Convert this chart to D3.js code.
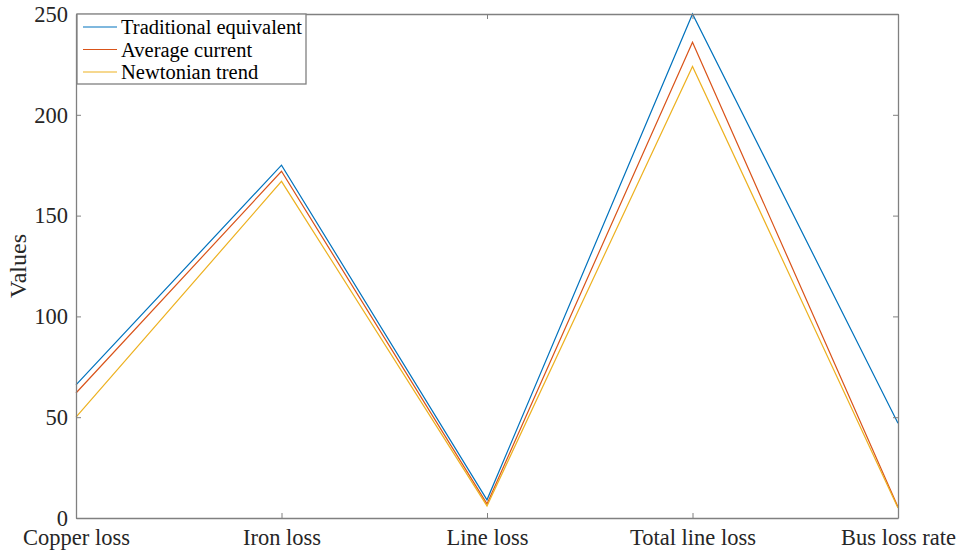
<!DOCTYPE html>
<html>
<head>
<meta charset="utf-8">
<script src="https://cdn.jsdelivr.net/npm/d3@7"></script>
<style>
  body { margin: 0; background: #fff; }
  svg { display: block; font-family: "Liberation Serif", "Times New Roman", serif; }
</style>
</head>
<body>
<div id="chart"></div>
<script>
const categories = ["Copper loss", "Iron loss", "Line loss", "Total line loss", "Bus loss rate"];
const seriesNames = ["Traditional equivalent", "Average current", "Newtonian trend"];
const traditional = [66, 175, 9, 250, 47];
const average = [62, 172, 7, 236, 5.5];
const newtonian = [50, 167, 6, 224, 5];
const yTicks = [0, 50, 100, 150, 200, 250];
const colors = ["#0072BD", "#D95319", "#EDB120"];

const width = 963, height = 553;
const margin = {top: 14, right: 65, bottom: 35, left: 76};

const svg = d3.select("#chart").append("svg")
  .attr("width", width)
  .attr("height", height);

const x = d3.scalePoint()
  .domain(categories)
  .range([margin.left, width - margin.right]);

const y = d3.scaleLinear()
  .domain([0, 250])
  .range([height - margin.bottom, margin.top]);

const axisColor = "#808080";

// lignes
const series = [traditional, average, newtonian];
const line = d3.line()
  .x((d, i) => x(categories[i]))
  .y(d => y(d));

svg.append("g")
  .selectAll("path")
  .data(series)
  .join("path")
    .attr("fill", "none")
    .attr("stroke", (d, i) => colors[i])
    .attr("stroke-width", 1.2)
    .attr("d", line);

// axes
const axBottom = svg.append("g")
  .attr("transform", `translate(0,${y(0)})`)
  .call(d3.axisBottom(x).tickSizeInner(-5).tickSizeOuter(0).tickPadding(10));
const axTop = svg.append("g")
  .attr("transform", `translate(0,${y(250)})`)
  .call(d3.axisTop(x).tickSizeInner(-5).tickSizeOuter(0).tickFormat(""));
const axLeft = svg.append("g")
  .attr("transform", `translate(${margin.left},0)`)
  .call(d3.axisLeft(y).tickValues(yTicks).tickSizeInner(-5).tickSizeOuter(0).tickPadding(8));
const axRight = svg.append("g")
  .attr("transform", `translate(${width - margin.right},0)`)
  .call(d3.axisRight(y).tickValues(yTicks).tickSizeInner(-5).tickSizeOuter(0).tickFormat(""));

[axBottom, axTop, axLeft, axRight].forEach(g => {
  g.select(".domain").attr("stroke", axisColor).attr("stroke-width", 1.3);
  g.selectAll(".tick line").attr("stroke", axisColor);
  g.selectAll(".tick text")
    .attr("fill", "#262626")
    .attr("font-family", "Liberation Serif, Times New Roman, serif")
    .attr("font-size", 22.5);
});
axBottom.selectAll(".tick text").attr("dy", "0.71em").attr("y", 11);

// titre axe y
svg.append("text")
  .attr("transform", `translate(26,${(y(0) + y(250)) / 2}) rotate(-90)`)
  .attr("text-anchor", "middle")
  .attr("fill", "#262626")
  .attr("font-size", 24)
  .text("Values");

// légende
const legend = svg.append("g").attr("transform", `translate(${margin.left + 1},${margin.top})`);
legend.append("rect")
  .attr("width", 229)
  .attr("height", 70)
  .attr("fill", "#fff")
  .attr("stroke", axisColor)
  .attr("stroke-width", 1.3);

const item = legend.selectAll("g.item")
  .data(seriesNames)
  .join("g")
    .attr("class", "item")
    .attr("transform", (d, i) => `translate(0,${13 + i * 22.5})`);
item.append("line")
  .attr("x1", 6).attr("x2", 40)
  .attr("stroke", (d, i) => colors[i])
  .attr("stroke-width", 1.2);
item.append("text")
  .attr("x", 44)
  .attr("dy", "0.35em")
  .attr("fill", "#000")
  .attr("font-size", 20.5)
  .text(d => d);
</script>
</body>
</html>
